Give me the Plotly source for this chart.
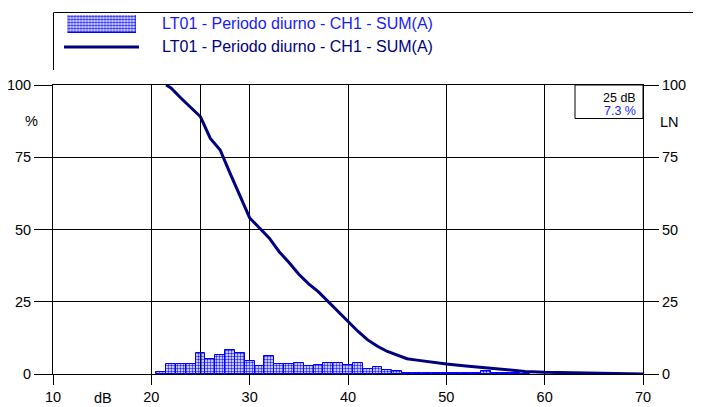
import plotly.graph_objects as go

# ---- data ----
bin_db = [21, 22, 23, 24, 25, 26, 27, 28, 29, 30, 31, 32, 33, 34, 35, 36, 37, 38, 39,
          40, 41, 42, 43, 44, 45, 46, 47, 48, 49, 50, 51, 52, 53, 54, 55, 56, 57, 58]
bin_pct = [0.8, 3.4, 3.4, 3.4, 7.3, 5.3, 6.7, 8.2, 7.4, 4.6, 2.7, 6.1, 3.4, 3.4, 3.7, 2.7, 3.0, 3.7, 3.7,
           3.0, 3.7, 1.6, 2.3, 1.3, 0.9, 0.5, 0.4, 0.4, 0.2, 0.5, 0.3, 0.4, 0.2, 0.9, 0.3, 0.2, 0.2, 0.1]

ln_db = [21.5, 22, 23, 24, 25, 26, 27, 28, 29, 30, 31, 32, 33, 34, 35, 36, 37, 38, 39, 40,
         41, 42, 43, 44, 45, 46, 47, 48, 50, 52, 54, 56, 58, 60, 65, 70]
ln_pct = [100, 99, 95.5, 92.3, 89, 81.5, 77.5, 69.5, 61.5, 54, 50.5, 47, 42.3, 38.6, 34.5, 31.2,
          28.4, 25, 21.5, 18, 14.8, 11.8, 9.6, 7.8, 6.5, 5.3, 4.8, 4.3, 3.5, 2.8, 2.1, 1.4, 0.9,
          0.6, 0.25, 0]

x_ticks = [10, 20, 30, 40, 50, 60, 70]
y_ticks = [0, 25, 50, 75, 100]
series_name = "LT01 - Periodo diurno - CH1 - SUM(A)"
cursor_db = 25
cursor_pct = 7.3

# ---- layout geometry ----
# the page body has an 8 px margin, so the figure is drawn 8 px in from the window corner
OFF = 8
W, H = 701 - OFF, 407 - OFF
ML, MT = 53 - OFF, 4
PW, PH_MAIN = 590, 289
MR = W - ML - PW
main_top = 85 - OFF
MB = H - (main_top + PH_MAIN)
PH = H - MT - MB
main_dom = PH_MAIN / PH

def px(x):
    """window pixel x -> paper x"""
    return (x - OFF - ML) / PW

def py(y):
    """window pixel y -> paper y"""
    return (H - MB - (y - OFF)) / PH

FONT = "Liberation Sans, Arial, sans-serif"
BLUE = "#1a1aff"
NAVY = "#000080"

bar_marker = dict(
    color="white",
    line=dict(color="#0000ff", width=1),
    pattern=dict(shape=".", fgcolor="#2020ff", bgcolor="white", size=3, solidity=0.5),
)

fig = go.Figure()
fig.add_trace(go.Bar(x=bin_db, y=bin_pct, width=1, marker=bar_marker, name=series_name,
                     showlegend=False, xaxis="x", yaxis="y"))
fig.add_trace(go.Scatter(x=ln_db, y=ln_pct, mode="lines", line=dict(color=NAVY, width=3),
                         name=series_name, showlegend=False, xaxis="x", yaxis="y2"))
# legend swatch (patterned) on a tiny axis
fig.add_trace(go.Bar(x=[0], y=[1], width=1, marker=bar_marker, showlegend=False,
                     xaxis="x3", yaxis="y3", hoverinfo="skip"))

tickfont = dict(family=FONT, size=14.5, color="black")

fig.update_layout(
    template="none",
    width=W, height=H,
    margin=dict(l=ML, r=MR, t=MT, b=MB, pad=0, autoexpand=False),
    paper_bgcolor="white", plot_bgcolor="white",
    showlegend=False,
    bargap=0,
    xaxis=dict(range=[10, 70], tickvals=x_ticks, ticklen=10, showline=True, mirror=True,
               linecolor="black", linewidth=1, domain=[0, 1], anchor="y",
               showgrid=True, gridcolor="black", gridwidth=1, zeroline=False, automargin=False,
               ticks="outside", tickcolor="black", tickfont=tickfont),
    yaxis=dict(range=[0, 100], tickvals=y_ticks, ticklen=18, showline=True, mirror=True,
               linecolor="black", linewidth=1, domain=[0, main_dom], anchor="x",
               showgrid=True, gridcolor="black", gridwidth=1, zeroline=False, automargin=False,
               ticks="outside", tickcolor="black", tickfont=tickfont, ticklabelstandoff=0),
    yaxis2=dict(range=[0, 100], tickvals=y_ticks, ticklen=15, overlaying="y", side="right",
                anchor="x", showgrid=False, zeroline=False, ticks="outside", tickcolor="black",
                automargin=False, ticklabelstandoff=0, tickfont=tickfont),
    xaxis3=dict(domain=[px(67.5), px(136)], range=[-0.5, 0.5], visible=False, anchor="y3",
                fixedrange=True, automargin=False),
    yaxis3=dict(domain=[py(33), py(15)], range=[0, 1], visible=False, anchor="x3",
                fixedrange=True, automargin=False),
    font=dict(family=FONT, color="black"),
)

shapes = []
# cursor line
shapes.append(dict(type="line", xref="x", yref="paper", x0=cursor_db, x1=cursor_db,
                   y0=0, y1=main_dom, line=dict(color="black", width=1)))
# legend frame (open at the bottom)
for (x0, y0, x1, y1) in [(53.5, 12.5, 699.5, 12.5), (53.5, 12.5, 53.5, 70), (699.5, 12.5, 699.5, 70)]:
    shapes.append(dict(type="line", xref="paper", yref="paper", x0=px(x0), x1=px(x1),
                       y0=py(y0), y1=py(y1), line=dict(color="black", width=1)))
# legend line swatch
shapes.append(dict(type="line", xref="paper", yref="paper", x0=px(64), x1=px(139),
                   y0=py(47), y1=py(47), line=dict(color=NAVY, width=3)))
# cursor readout box
shapes.append(dict(type="rect", xref="paper", yref="paper", x0=px(575), x1=1,
                   y0=py(118.5), y1=main_dom, line=dict(color="black", width=1), fillcolor="white"))
fig.update_layout(shapes=shapes)

ann = []
ann.append(dict(text=series_name, x=px(161), y=py(23.5), font=dict(size=16, color=BLUE),
                xanchor="left", yanchor="middle"))
ann.append(dict(text=series_name, x=px(161), y=py(46.5), font=dict(size=16, color=NAVY),
                xanchor="left", yanchor="middle"))
ann.append(dict(text=f"{cursor_db} dB", x=px(636.5), y=py(98.2), font=dict(size=12.5, color="black"),
                xanchor="right", yanchor="middle"))
ann.append(dict(text=f"{cursor_pct} %", x=px(636.5), y=py(111.4), font=dict(size=12.5, color=BLUE),
                xanchor="right", yanchor="middle"))
ann.append(dict(text="%", x=px(31.5), y=py(121), font=dict(size=14.5, color="black"),
                xanchor="center", yanchor="middle"))
ann.append(dict(text="LN", x=px(669), y=py(122), font=dict(size=14.5, color="black"),
                xanchor="center", yanchor="middle"))
ann.append(dict(text="dB", x=px(102.5), y=py(398), font=dict(size=14.5, color="black"),
                xanchor="center", yanchor="middle"))
for a in ann:
    a.update(xref="paper", yref="paper", showarrow=False, borderpad=0)
    a["font"]["family"] = FONT
fig.update_layout(annotations=ann)

fig.write_html("out.html")
